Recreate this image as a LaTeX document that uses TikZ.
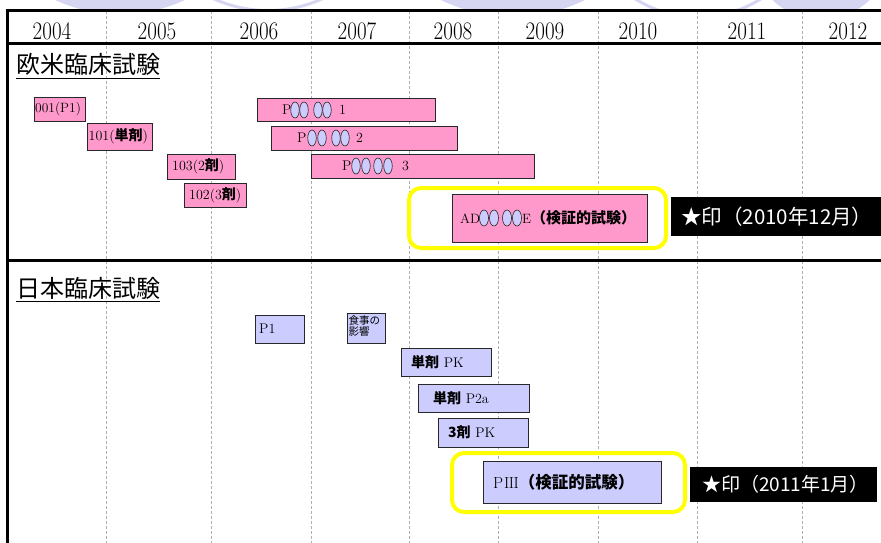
\documentclass[tikz,border=0pt]{standalone}
\usepackage{fontspec}
\newfontfamily\jp{Noto Sans CJK JP}
\usetikzlibrary{shapes.geometric}
\definecolor{pinkc}{HTML}{FF99CC}
\definecolor{bluec}{HTML}{CCCCFF}
\definecolor{lav}{RGB}{214,214,243}
\definecolor{gridc}{RGB}{175,175,175}
\definecolor{boxline}{RGB}{40,40,40}
\definecolor{hiy}{HTML}{FFFF00}
\newcommand\fsz[1]{\fontsize{#1}{#1}\selectfont}
\newcommand\jb[1]{{\jp\bfseries #1}}
\begin{document}
\begin{tikzpicture}[x=1pt,y=-1pt,
  gridline/.style={draw=gridc, line width=0.6pt, dash pattern=on 3pt off 2pt},
  frameline/.style={draw=black, line width=3pt},
  bar/.style={draw=boxline, line width=1pt, inner sep=0pt, anchor=north west},
  pinkbar/.style={bar, fill=pinkc},
  bluebar/.style={bar, fill=bluec},
  lbl/.style={anchor=west, inner sep=0pt, font=\fsz{14}},
  biglbl/.style={anchor=west, inner sep=0pt, font=\fsz{14}},
  mask/.style={ellipse, draw=boxline, fill=bluec, line width=0.6pt, minimum width=8.5pt, minimum height=16pt, inner sep=0pt},
  hilite/.style={draw=hiy, line width=4pt, rounded corners=12pt},
  stamp/.style={fill=black, inner sep=0pt, anchor=north west},
  stamptext/.style={anchor=west, inner sep=0pt, text=white, font=\jp\fsz{19}},
  year/.style={inner sep=0pt, font=\fsz{21}},
  sectitle/.style={anchor=base west, inner sep=0pt, font=\jp\fsz{24}}
]
\useasboundingbox (0,0) rectangle (881,543);
% background watermark circles
\begin{scope}
\clip (0,0) rectangle (881,10);
\fill[lav] (120,-140.8) circle[radius=155pt];
\draw[lav, line width=3pt] (268,-120.5) circle[radius=131pt];
\fill[lav] (513,-148.5) circle[radius=165pt];
\draw[lav, line width=3pt] (698,-101) circle[radius=118pt];
\fill[lav] (821,-50) circle[radius=69.7pt];
\end{scope}
% grid
\foreach \gx in {106,211,311,409,498,598,697,802}
  \draw[gridline] (\gx,11) -- (\gx,543);
% frame
\draw[frameline] (881,11) -- (7,11) -- (7,543);
\draw[frameline] (7,44) -- (881,44);
\draw[frameline] (7,260) -- (881,260);
% years
\node[year] (y2004) at (52,31) {\scalebox{1}[1.2]{2004}};
\node[year] (y2005) at (157,31) {\scalebox{1}[1.2]{2005}};
\node[year] (y2006) at (259,31) {\scalebox{1}[1.2]{2006}};
\node[year] (y2007) at (357,31) {\scalebox{1}[1.2]{2007}};
\node[year] (y2008) at (453,31) {\scalebox{1}[1.2]{2008}};
\node[year] (y2009) at (545,31) {\scalebox{1}[1.2]{2009}};
\node[year] (y2010) at (638,31) {\scalebox{1}[1.2]{2010}};
\node[year] (y2011) at (747,31) {\scalebox{1}[1.2]{2011}};
\node[year] (y2012) at (848,31) {\scalebox{1}[1.2]{2012}};
% section titles
\node[sectitle] (eu) at (16,74) {欧米臨床試験};
\draw[line width=1.5pt] ([yshift=-4.5pt]eu.base west) -- ([yshift=-4.5pt]eu.base east);
\node[sectitle] (jpn) at (16,297) {日本臨床試験};
\draw[line width=1.5pt] ([yshift=-4.5pt]jpn.base west) -- ([yshift=-4.5pt]jpn.base east);
% western trials
\node[pinkbar, minimum width=51pt, minimum height=24pt] (b001) at (34,97) {};
\node[lbl, font=\fsz{13.5}] (t001) at (35,109) {001(P1)};
\node[pinkbar, minimum width=65pt, minimum height=27pt] (b101) at (87,123) {};
\node[lbl] (t101) at (88.5,136.5) {101(\jb{単剤})};
\node[pinkbar, minimum width=68pt, minimum height=25pt] (b103) at (167,154) {};
\node[lbl] (t103) at (172,166.5) {103(2\jb{剤})};
\node[pinkbar, minimum width=62pt, minimum height=24pt] (b102) at (184,183) {};
\node[lbl] (t102) at (189,195) {102(3\jb{剤})};
\node[pinkbar, minimum width=178pt, minimum height=23pt] (bp1) at (257,98) {};
\node[biglbl] (tp1) at (282,110) {P\hspace{47.5pt}1};
\node[mask] (m11) at (295,110) {};
\node[mask] (m12) at (304,110) {};
\node[mask] (m13) at (318,110) {};
\node[mask] (m14) at (327,110) {};
\node[pinkbar, minimum width=186pt, minimum height=24pt] (bp2) at (271,126) {};
\node[biglbl] (tp2) at (297,138) {P\hspace{49.5pt}2};
\node[mask] (m21) at (312,138) {};
\node[mask] (m22) at (322,138) {};
\node[mask] (m23) at (336,138) {};
\node[mask] (m24) at (345,138) {};
\node[pinkbar, minimum width=223pt, minimum height=24pt] (bp3) at (311,154) {};
\node[biglbl] (tp3) at (342,166) {P\hspace{50.5pt}3};
\node[mask] (m31) at (356,166) {};
\node[mask] (m32) at (366,166) {};
\node[mask] (m33) at (378,166) {};
\node[mask] (m34) at (388,166) {};
\draw[hilite] (409,188) rectangle (666,248);
\node[pinkbar, minimum width=195pt, minimum height=48pt] (bad) at (452,194) {};
\node[lbl, font=\fsz{13.5}] (tad) at (460,218) {AD\hspace{42pt}E\jb{\fsz{15}（検証的試験）}};
\node[mask, minimum width=9pt] (m41) at (484,218) {};
\node[mask, minimum width=9pt] (m42) at (494,218) {};
\node[mask, minimum width=9pt] (m43) at (507,218) {};
\node[mask, minimum width=9pt] (m44) at (517,218) {};
\node[stamp, minimum width=210pt, minimum height=39pt] (s1) at (671,197) {};
\node[stamptext, font=\jp\fsz{20.5}] (s1t) at (681,216.5) {★印（2010年12月）};
% japanese trials
\node[bluebar, minimum width=49pt, minimum height=28pt] (jp1) at (255,315) {};
\node[biglbl] (tjp1) at (259,329) {P1};
\node[bluebar, minimum width=38pt, minimum height=30pt] (jfood) at (347,313) {};
\node[anchor=north west, inner sep=0pt, align=left, font=\jp\fsz{10.5}] (tfood) at (348.5,315) {食事の\\[1pt]影響};
\node[bluebar, minimum width=90pt, minimum height=28pt] (jpk) at (401,348) {};
\node[biglbl] (tjpk) at (411,362) {\jb{単剤} PK};
\node[bluebar, minimum width=111pt, minimum height=28pt] (jp2a) at (418,384) {};
\node[biglbl] (tjp2a) at (433,398) {\jb{単剤} P2a};
\node[bluebar, minimum width=90pt, minimum height=29pt] (j3pk) at (438,418) {};
\node[biglbl] (tj3pk) at (448,432.5) {\jb{3剤} PK};
\draw[hilite] (452,453) rectangle (685,512);
\node[bluebar, minimum width=178pt, minimum height=42pt] (jp3) at (483,461) {};
\node[biglbl, font=\fsz{16}] (tjp3) at (493,482) {P\kern1pt I\kern-0.6pt I\kern-0.6pt I\jb{\fsz{16.5}（検証的試験）}};
\node[stamp, minimum width=187pt, minimum height=35pt] (s2) at (690,467) {};
\node[stamptext] (s2t) at (702,484.5) {★印（2011年1月）};
\end{tikzpicture}
\end{document}
